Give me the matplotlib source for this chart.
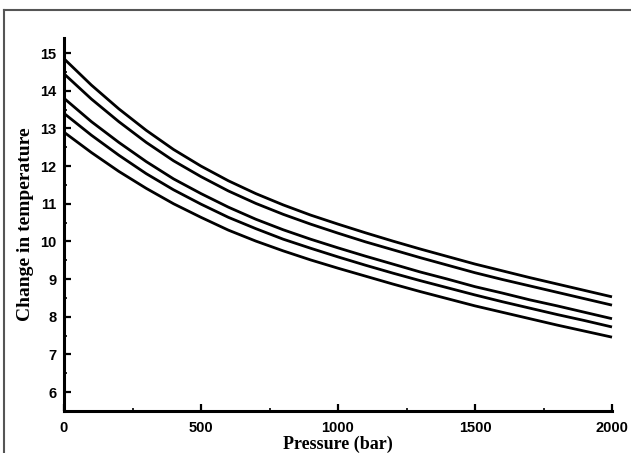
import matplotlib
matplotlib.use("Agg")
import matplotlib.pyplot as plt
from matplotlib.lines import Line2D
from matplotlib.ticker import MultipleLocator

pressure = [0, 100, 200, 300, 400, 500, 600, 700, 800, 900, 1000,
            1100, 1200, 1300, 1400, 1500, 1600, 1700, 1800, 1900, 2000]

curve1 = [14.85, 14.15, 13.52, 12.95, 12.44, 12.00, 11.61, 11.27, 10.97, 10.70, 10.46,
          10.23, 10.01, 9.80, 9.60, 9.40, 9.22, 9.04, 8.87, 8.70, 8.53]
curve2 = [14.45, 13.78, 13.18, 12.63, 12.14, 11.72, 11.34, 11.01, 10.72, 10.46, 10.22,
          9.99, 9.78, 9.57, 9.37, 9.17, 8.99, 8.82, 8.65, 8.48, 8.31]
curve3 = [13.80, 13.18, 12.63, 12.12, 11.66, 11.27, 10.91, 10.59, 10.31, 10.06, 9.83,
          9.61, 9.40, 9.19, 9.00, 8.80, 8.63, 8.45, 8.29, 8.12, 7.95]
curve4 = [13.40, 12.82, 12.29, 11.80, 11.37, 10.99, 10.64, 10.34, 10.06, 9.82, 9.59,
          9.37, 9.16, 8.96, 8.77, 8.58, 8.40, 8.23, 8.06, 7.90, 7.73]
curve5 = [12.90, 12.36, 11.86, 11.41, 11.00, 10.64, 10.30, 10.01, 9.75, 9.51, 9.29,
          9.08, 8.87, 8.67, 8.48, 8.29, 8.12, 7.95, 7.78, 7.62, 7.46]

x_ticks = [0, 500, 1000, 1500, 2000]
y_ticks = [6, 7, 8, 9, 10, 11, 12, 13, 14, 15]

W, H = 631, 453
fig = plt.figure(figsize=(W / 100, H / 100), dpi=100)
fig.patch.set_facecolor("white")

left, right = 64 / W, 612 / W
bottom, top = 1 - 411 / H, 1 - 38 / H
ax = fig.add_axes([left, bottom, right - left, top - bottom])

for c in [curve1, curve2, curve3, curve4, curve5]:
    ax.plot(pressure, c, color="black", lw=2.0, solid_capstyle="butt", clip_on=False)

ax.set_xlim(0, 2000)
ax.set_ylim(5.5, 15.4)
ax.spines["top"].set_visible(False)
ax.spines["right"].set_visible(False)
ax.spines["left"].set_linewidth(2.2)
ax.spines["bottom"].set_linewidth(2.2)

ax.set_xticks(x_ticks)
ax.set_yticks(y_ticks)
ax.xaxis.set_minor_locator(MultipleLocator(250))
ax.yaxis.set_minor_locator(MultipleLocator(0.5))
ax.tick_params(which="major", direction="in", length=5, width=1.6, labelsize=10.5)
ax.tick_params(axis="x", which="major", pad=7.5)
ax.tick_params(axis="y", which="major", pad=5.5)
ax.tick_params(which="minor", direction="in", length=2.5, width=1.2)
for lab in ax.get_xticklabels() + ax.get_yticklabels():
    lab.set_fontfamily("Liberation Sans")
    lab.set_fontweight("bold")

ax.set_xlabel("Pressure (bar)", fontfamily="Liberation Serif", fontweight="bold",
              fontsize=13, va="top")
ax.xaxis.set_label_coords(0.5, (411 - 436) / 373)
ax.set_ylabel("Change in temperature", fontfamily="Liberation Serif",
              fontweight="bold", fontsize=14)
ax.yaxis.set_label_coords((34 - 64) / 548, 0.5)

# outer frame (top and left edges visible)
frame_color = "#555555"
fig.add_artist(Line2D([4 / W, 1.0], [1 - 10 / H, 1 - 10 / H],
                      transform=fig.transFigure, color=frame_color, lw=1.5))
fig.add_artist(Line2D([4 / W, 4 / W], [0.0, 1 - 10 / H],
                      transform=fig.transFigure, color=frame_color, lw=1.5))

fig.savefig("out.png", dpi=100)
